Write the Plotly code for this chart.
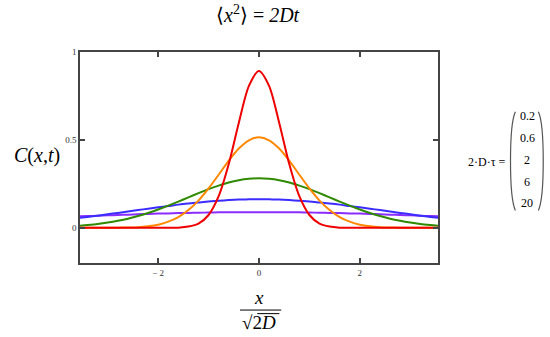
import plotly.graph_objects as go

# ---- data ----
x_vals = [-3.6, -3.4, -3.2, -3.0, -2.8, -2.6, -2.4, -2.2, -2.0, -1.8, -1.6, -1.4, -1.2, -1.0,
          -0.8, -0.6, -0.4, -0.2, 0.0, 0.2, 0.4, 0.6, 0.8, 1.0, 1.2, 1.4, 1.6, 1.8, 2.0,
          2.2, 2.4, 2.6, 2.8, 3.0, 3.2, 3.4, 3.6]

c_02 = [0.000, 0.000, 0.000, 0.000, 0.000, 0.000, 0.000, 0.000, 0.000, 0.000, 0.001, 0.007, 0.024, 0.073,
        0.180, 0.363, 0.598, 0.807, 0.892, 0.807, 0.598, 0.363, 0.180, 0.073, 0.024, 0.007, 0.001, 0.000, 0.000,
        0.000, 0.000, 0.000, 0.000, 0.000, 0.000, 0.000, 0.000]
c_06 = [0.000, 0.000, 0.000, 0.000, 0.001, 0.002, 0.004, 0.009, 0.018, 0.035, 0.061, 0.101, 0.155, 0.224,
        0.302, 0.382, 0.451, 0.498, 0.515, 0.498, 0.451, 0.382, 0.302, 0.224, 0.155, 0.101, 0.061, 0.035, 0.018,
        0.009, 0.004, 0.002, 0.001, 0.000, 0.000, 0.000, 0.000]
c_2 = [0.011, 0.016, 0.022, 0.030, 0.040, 0.052, 0.067, 0.084, 0.104, 0.126, 0.149, 0.173, 0.197, 0.220,
       0.240, 0.258, 0.271, 0.279, 0.282, 0.279, 0.271, 0.258, 0.240, 0.220, 0.197, 0.173, 0.149, 0.126, 0.104,
       0.084, 0.067, 0.052, 0.040, 0.030, 0.022, 0.016, 0.011]
c_6 = [0.055, 0.062, 0.069, 0.077, 0.085, 0.093, 0.101, 0.109, 0.117, 0.124, 0.132, 0.138, 0.144, 0.150,
       0.154, 0.158, 0.161, 0.162, 0.163, 0.162, 0.161, 0.158, 0.154, 0.150, 0.144, 0.138, 0.132, 0.124, 0.117,
       0.109, 0.101, 0.093, 0.085, 0.077, 0.069, 0.062, 0.055]
c_20 = [0.065, 0.067, 0.069, 0.071, 0.073, 0.075, 0.077, 0.079, 0.081, 0.082, 0.084, 0.085, 0.086, 0.087,
        0.088, 0.088, 0.089, 0.089, 0.089, 0.089, 0.089, 0.088, 0.088, 0.087, 0.086, 0.085, 0.084, 0.082, 0.081,
        0.079, 0.077, 0.075, 0.073, 0.071, 0.069, 0.067, 0.065]

tau_labels = ["0.2", "0.6", "2", "6", "20"]
series = [c_02, c_06, c_2, c_6, c_20]
colors = ["#ee0000", "#ff8800", "#2f8a00", "#3b2cff", "#8a2cff"]

x_ticks = [-2, 0, 2]
x_tick_text = ["\u2212 2", "0", "2"]
y_ticks = [0, 0.5, 1]
y_tick_text = ["0", "0.5", "1"]

SERIF = "Liberation Serif, Times New Roman, serif"

fig = go.Figure()
# draw flattest first, narrowest (red) last so it lies on top
for vals, col, lab in reversed(list(zip(series, colors, tau_labels))):
    fig.add_trace(go.Scatter(x=x_vals, y=vals, mode="lines", name=lab,
                             line=dict(color=col, width=2, shape="spline", smoothing=0.8),
                             hoverinfo="skip"))

axis_common = dict(showgrid=False, zeroline=False, showline=True, linecolor="#444",
                   linewidth=1.5, mirror="ticks", ticks="inside", ticklen=5,
                   tickcolor="#444", tickwidth=1.5,
                   tickfont=dict(family=SERIF, size=9, color="#333"))

fig.update_xaxes(range=[-3.55, 3.55], tickvals=x_ticks, ticktext=x_tick_text, **axis_common)
fig.update_yaxes(range=[-0.2, 1.0], tickvals=y_ticks, ticktext=y_tick_text, **axis_common)

annotations = [
    dict(text="\u27e8<i>x</i><sup>2</sup>\u27e9 = <i>2Dt</i>", x=0.4976, y=1.18,
         font=dict(family=SERIF, size=20, color="black")),
    dict(text="<i>C</i>(<i>x</i>,<i>t</i>)", x=-0.12, y=0.511,
         font=dict(family=SERIF, size=20, color="black")),
    dict(text="<i>x</i>", x=0.5004, y=-0.163,
         font=dict(family=SERIF, size=19, color="black")),
    dict(text="\u221a2<i>D</i>", x=0.5, y=-0.283,
         font=dict(family=SERIF, size=19, color="black")),
    dict(text="2\u00b7D\u00b7\u03c4 =", x=1.135, y=0.479,
         font=dict(family=SERIF, size=12, color="black")),
]
for i, lab in enumerate(tau_labels):
    annotations.append(dict(text=lab, x=1.249, y=0.696 - i * 0.1035,
                            font=dict(family=SERIF, size=12, color="black")))
for a in annotations:
    a.update(xref="paper", yref="paper", showarrow=False, xanchor="center", yanchor="middle")

shapes = [
    # fraction bar
    dict(type="line", xref="paper", yref="paper", x0=0.447, x1=0.562, y0=-0.223, y1=-0.223,
         line=dict(color="black", width=1)),
    # radical overline
    dict(type="line", xref="paper", yref="paper", x0=0.495, x1=0.557, y0=-0.240, y1=-0.240,
         line=dict(color="black", width=1)),
    # vector parentheses
    dict(type="path", xref="paper", yref="paper",
         path="M 1.2161,0.717 C 1.1980,0.650 1.1980,0.316 1.2161,0.249",
         line=dict(color="#555", width=1.2)),
    dict(type="path", xref="paper", yref="paper",
         path="M 1.2804,0.717 C 1.2985,0.650 1.2985,0.316 1.2804,0.249",
         line=dict(color="#555", width=1.2)),
]

fig.update_layout(width=550, height=337, margin=dict(l=80, r=112, t=52, b=74),
                  plot_bgcolor="white", paper_bgcolor="white", showlegend=False,
                  annotations=annotations, shapes=shapes)

fig.write_html("out.html")
